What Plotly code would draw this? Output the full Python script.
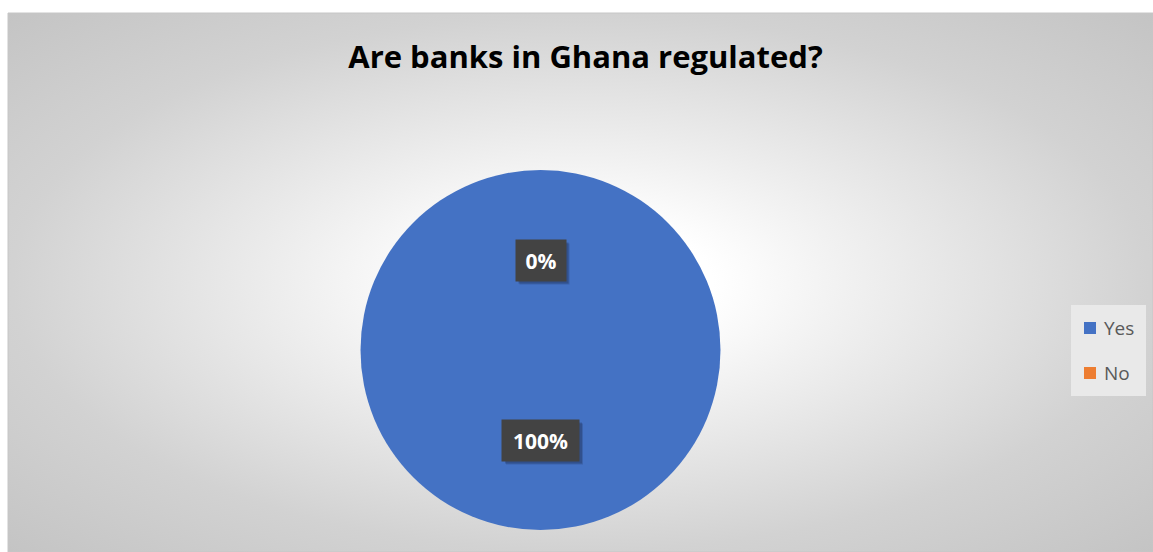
import base64
import math
import plotly.graph_objects as go

# ---- data ----
title_text = "Are banks in Ghana regulated?"
labels = ["Yes", "No"]
values = [100, 0]
colors = ["#4472C4", "#ED7D31"]

W, H = 1153, 552


def X(px):
    return px / W


def Y(py):
    return 1 - py / H


# chart-area background: radial gradient (white centre, grey edges)
ax0, ay0, ax1, ay1 = 8, 13, 1153, 552
aw, ah = ax1 - ax0, ay1 - ay0
svg = (
    f'<svg xmlns="http://www.w3.org/2000/svg" width="{aw}" height="{ah}" '
    f'viewBox="0 0 {aw} {ah}" preserveAspectRatio="none">'
    '<defs><radialGradient id="g" cx="0.5" cy="0.5" r="0.72" gradientUnits="objectBoundingBox">'
    '<stop offset="0" stop-color="#ffffff"/>'
    '<stop offset="0.16" stop-color="#ffffff"/>'
    '<stop offset="0.32" stop-color="#f1f1f1"/>'
    '<stop offset="0.69" stop-color="#d2d2d2"/>'
    '<stop offset="1" stop-color="#c3c3c3"/>'
    '</radialGradient></defs>'
    f'<rect x="0" y="0" width="{aw}" height="{ah}" fill="url(#g)"/></svg>'
)
src = "data:image/svg+xml;base64," + base64.b64encode(svg.encode()).decode()

# pie geometry (pixels)
pcx, pcy, pr = 540.5, 350, 180
dom_x = [X(pcx - pr), X(pcx + pr)]
dom_y = [Y(pcy + pr), Y(pcy - pr)]

fig = go.Figure()
fig.add_trace(
    go.Pie(
        labels=labels,
        values=values,
        marker=dict(colors=colors, line=dict(width=0)),
        sort=False,
        direction="clockwise",
        rotation=0,
        textinfo="none",
        hoverinfo="label+percent",
        showlegend=False,
        domain=dict(x=dom_x, y=dom_y),
    )
)

shapes = [
    dict(type="rect", xref="paper", yref="paper",
         x0=X(ax0), x1=X(ax1), y0=Y(ay1), y1=Y(ay0),
         line=dict(color="#c6c6c6", width=1), fillcolor="rgba(0,0,0,0)", layer="below"),
]
annotations = []

# data labels at half radius along each slice's mid-angle
total = sum(values)
cum = 0
bh = 41
for lab, v in zip(labels, values):
    frac = v / total
    mid = (cum + frac / 2) * 2 * math.pi
    cum += frac
    lx = pcx + 0.5 * pr * math.sin(mid)
    ly = pcy - 0.5 * pr * math.cos(mid)
    txt = f"{round(frac * 100)}%"
    bw = 50 if len(txt) <= 2 else 77
    # soft shadow (two offset translucent rectangles)
    for (d, col) in [(4, "rgba(25,35,70,0.20)"), (3, "rgba(25,35,70,0.28)")]:
        shapes.append(dict(type="rect", xref="paper", yref="paper",
                           x0=X(lx - bw / 2 + d), x1=X(lx + bw / 2 + d),
                           y0=Y(ly + bh / 2 + d), y1=Y(ly - bh / 2 + d),
                           fillcolor=col, line=dict(width=0), layer="above"))
    annotations.append(dict(
        x=X(lx), y=Y(ly), xref="paper", yref="paper",
        text=f"<b>{txt}</b>", showarrow=False,
        font=dict(family="Open Sans", size=21, color="#ffffff"),
        bgcolor="#434343", width=bw, height=bh, borderpad=0,
        xanchor="center", yanchor="middle",
    ))

# legend (manual)
shapes.append(dict(type="rect", xref="paper", yref="paper",
                   x0=X(1071), x1=X(1146), y0=Y(396), y1=Y(305),
                   fillcolor="#e9e9e9", line=dict(width=0), layer="below"))
for i, (lab, c) in enumerate(zip(labels, colors)):
    cy = 328 + 45 * i
    shapes.append(dict(type="rect", xref="paper", yref="paper",
                       x0=X(1084), x1=X(1096), y0=Y(cy + 6), y1=Y(cy - 6),
                       fillcolor=c, line=dict(width=0)))
    annotations.append(dict(
        x=X(1102), y=Y(cy), xref="paper", yref="paper", text=lab,
        showarrow=False, xanchor="left", yanchor="middle",
        font=dict(family="Open Sans", size=19, color="#595959"),
    ))

fig.update_layout(
    width=W, height=H,
    margin=dict(l=0, r=0, t=0, b=0),
    paper_bgcolor="#ffffff",
    plot_bgcolor="rgba(0,0,0,0)",
    title=dict(text=f"<b>{title_text}</b>", x=X(585.5), y=Y(57),
               xanchor="center", yanchor="middle", xref="paper", yref="paper",
               font=dict(family="Open Sans", size=31, color="#000000")),
    images=[dict(source=src, xref="paper", yref="paper",
                 x=X(ax0), y=Y(ay0), sizex=aw / W, sizey=ah / H,
                 xanchor="left", yanchor="top", sizing="stretch", layer="below")],
    shapes=shapes,
    annotations=annotations,
    showlegend=False,
)

fig.write_html("out.html")
